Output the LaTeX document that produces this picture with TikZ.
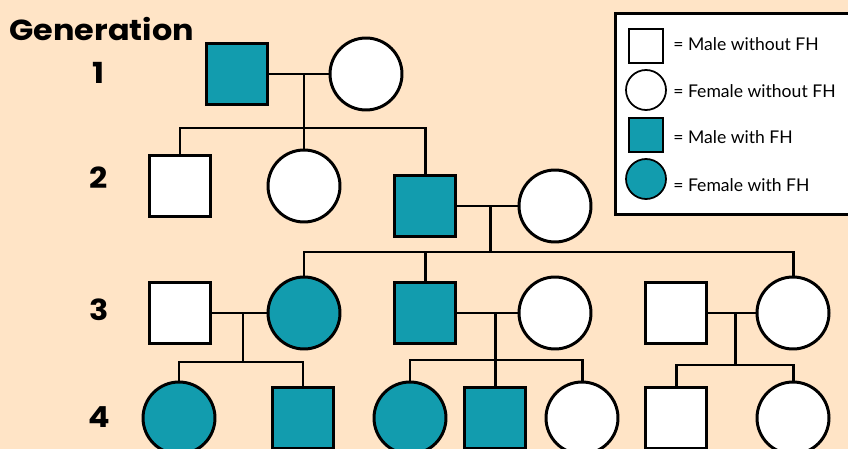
\documentclass[tikz,border=0pt]{standalone}
\usepackage{fontspec}
\setmainfont{Lato}
\newfontfamily\genfont{Poppins}[FakeStretch=1.1]
\definecolor{bg}{RGB}{255,228,198}
\definecolor{teal}{RGB}{18,156,174}
\tikzset{
  lw/.style={line width=1.7pt},
  male/.style={rectangle, draw, lw, fill=white, minimum size=1.22cm, inner sep=0pt},
  female/.style={circle, draw, lw, fill=white, minimum size=1.44cm, inner sep=0pt},
  aff/.style={fill=teal},
  lmale/.style={rectangle, draw, line width=1pt, fill=white, minimum size=0.68cm, inner sep=0pt},
  lfemale/.style={circle, draw, line width=1pt, fill=white, minimum size=0.80cm, inner sep=0pt},
  conn/.style={lw, line cap=rect},
  gen/.style={font=\genfont\fontsize{16.5}{16.5}\selectfont\bfseries, inner sep=0pt},
  legtxt/.style={font=\fontsize{10}{12}\selectfont, anchor=west, inner sep=0pt},
}
\begin{document}
\begin{tikzpicture}[x=0.02cm,y=-0.02cm]
\useasboundingbox (0,0) rectangle (848,449);
\clip (0,0) rectangle (848,449);
\fill[bg] (0,0) rectangle (848,449);

% labels
\node[gen, anchor=west] (lg) at (9,29) {Generation};
\node[gen] (l1) at (98,73) {1};
\node[gen] (l2) at (99,178) {2};
\node[gen] (l3) at (99,310) {3};
\node[gen] (l4) at (99,417) {4};

% generation 1
\node[male, aff] (g1m) at (237,74) {};
\node[female] (g1f) at (366,74) {};
% generation 2
\node[male] (g2a) at (180,186) {};
\node[female] (g2b) at (304,186) {};
\node[male, aff] (g2c) at (425,206) {};
\node[female] (g2d) at (555,206) {};
% generation 3
\node[male] (g3a) at (180,313) {};
\node[female, aff] (g3b) at (304,313) {};
\node[male, aff] (g3c) at (425,313) {};
\node[female] (g3d) at (555,313) {};
\node[male] (g3e) at (676,313) {};
\node[female] (g3f) at (793,313) {};
% generation 4
\node[female, aff] (g4a) at (179,418) {};
\node[male, aff] (g4b) at (303,418) {};
\node[female, aff] (g4c) at (410,418) {};
\node[male, aff] (g4d) at (495,418) {};
\node[female] (g4e) at (582,418) {};
\node[male] (g4f) at (676,418) {};
\node[female] (g4g) at (793,418) {};

% marriage points and sibship lines
\coordinate (m1) at (304,74);
\coordinate (s1) at (304,128);
\coordinate (m2) at (490,206);
\coordinate (s2) at (490,252);
\coordinate (m3) at (243,313);
\coordinate (s3) at (243,362);
\coordinate (m4) at (495,313);
\coordinate (s4) at (495,360);
\coordinate (m5) at (735,313);
\coordinate (s5) at (735,365);

\draw[conn] (g1m) -- (g1f);
\draw[conn] (m1) -- (s1);
\draw[conn] (g2a.north) |- (s1) -| (g2c.north);
\draw[conn] (s1) -- (g2b.north);

\draw[conn] (g2c) -- (g2d);
\draw[conn] (m2) -- (s2);
\draw[conn] (g3b.north) |- (s2) -| (g3f.north);
\draw[conn] (s2 -| g3c.north) -- (g3c.north);

\draw[conn] (g3a) -- (g3b);
\draw[conn] (m3) -- (s3);
\draw[conn] (g4a.north) |- (s3) -| (g4b.north);

\draw[conn] (g3c) -- (g3d);
\draw[conn] (m4) -- (s4);
\draw[conn] (g4c.north) |- (s4) -| (g4e.north);
\draw[conn] (s4) -- (g4d.north);

\draw[conn] (g3e) -- (g3f);
\draw[conn] (m5) -- (s5);
\draw[conn] (g4f.north) |- (s5) -| (g4g.north);

% legend
\node[draw, line width=1.6pt, fill=white, minimum width=5cm, minimum height=4.02cm, anchor=north west, inner sep=0pt] (leg) at (614,12) {};
\node[lmale] (k1) at (646,46) {};
\node[lfemale] (k2) at (646,90) {};
\node[lmale, aff] (k3) at (646,135) {};
\node[lfemale, aff] (k4) at (646,179) {};
\node[legtxt] (t1) at (673,44) {= Male without FH};
\node[legtxt] (t2) at (673,91) {= Female without FH};
\node[legtxt] (t3) at (673,137) {= Male with FH};
\node[legtxt] (t4) at (673,185) {= Female with FH};
\end{tikzpicture}
\end{document}
